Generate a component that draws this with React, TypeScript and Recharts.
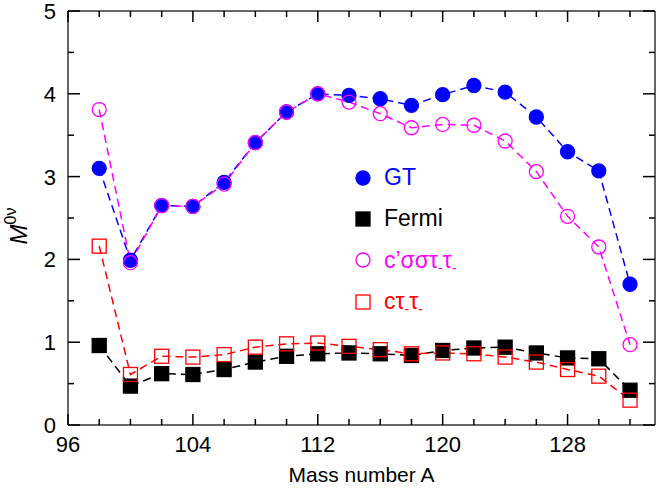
import React from 'react';
import { LineChart, Line, XAxis, YAxis, Legend, ReferenceLine } from 'recharts';

const massNumbers = [98, 100, 102, 104, 106, 108, 110, 112, 114, 116, 118, 120, 122, 124, 126, 128, 130, 132];
const gtValues = [3.1, 1.99, 2.65, 2.64, 2.93, 3.41, 3.78, 4.0, 3.98, 3.94, 3.86, 3.99, 4.1, 4.02, 3.72, 3.3, 3.07, 1.7];
const fermiValues = [0.96, 0.47, 0.62, 0.61, 0.67, 0.76, 0.83, 0.86, 0.87, 0.86, 0.84, 0.9, 0.93, 0.94, 0.87, 0.81, 0.8, 0.42];
const sigmaValues = [3.81, 1.96, 2.65, 2.64, 2.91, 3.41, 3.78, 4.0, 3.9, 3.76, 3.59, 3.63, 3.62, 3.43, 3.06, 2.52, 2.15, 0.97];
const tauValues = [2.16, 0.61, 0.83, 0.82, 0.85, 0.94, 0.98, 0.99, 0.95, 0.91, 0.86, 0.87, 0.86, 0.82, 0.76, 0.67, 0.59, 0.3];

const xTicks = [96, 98, 100, 102, 104, 106, 108, 110, 112, 114, 116, 118, 120, 122, 124, 126, 128, 130, 132];
const yTicks = [0, 0.5, 1, 1.5, 2, 2.5, 3, 3.5, 4, 4.5, 5];
const X_MAX = 133.6;

const FONT = '"Liberation Sans", Arial, Helvetica, sans-serif';
const BLUE = '#0000ff';
const MAGENTA = '#ff00ff';
const RED = '#ff0000';
const FRAME = '#333';

// layout
const CHART_W = 661;
const CHART_H = 488;
const MARGIN_TOP = 11;
const MARGIN_RIGHT = 6;
const XAXIS_H = 63;
const YAXIS_W = 68;
const PLOT_H = CHART_H - MARGIN_TOP - XAXIS_H;
const PLOT_W = CHART_W - MARGIN_RIGHT - YAXIS_W;

const chartData = massNumbers.map((a, i) => ({
  a,
  gt: gtValues[i],
  fermi: fermiValues[i],
  sigma: sigmaValues[i],
  tau: tauValues[i],
}));

const isMajorX = (v: number) => (v - 96) % 8 === 0;
const isMajorY = (v: number) => v % 1 === 0;

// bottom ticks point inward; the mirrored top tick is drawn with it
const BottomTick = (props: any) => {
  const { x, y, payload } = props;
  const len = isMajorX(payload.value) ? 11 : 6;
  const top = y - PLOT_H;
  return (
    <g>
      <line x1={x} x2={x} y1={y} y2={y - len} stroke="#000" strokeWidth={1.5} />
      <line x1={x} x2={x} y1={top} y2={top + len} stroke="#000" strokeWidth={1.5} />
      {isMajorX(payload.value) && (
        <text x={x} y={y + 27} textAnchor="middle" fontSize={22} fontFamily={FONT} fill="#000">
          {payload.value}
        </text>
      )}
    </g>
  );
};

// left ticks point inward; the mirrored right tick is drawn with it
const LeftTick = (props: any) => {
  const { x, y, payload } = props;
  const len = isMajorY(payload.value) ? 12 : 6;
  const right = x + PLOT_W;
  return (
    <g>
      <line x1={x} x2={x + len} y1={y} y2={y} stroke="#000" strokeWidth={1.5} />
      <line x1={right} x2={right - len} y1={y} y2={y} stroke="#000" strokeWidth={1.5} />
      {isMajorY(payload.value) && (
        <text x={x - 12} y={y + 8} textAnchor="end" fontSize={22} fontFamily={FONT} fill="#000">
          {payload.value}
        </text>
      )}
    </g>
  );
};

const circleDot = (color: string, filled: boolean) => (props: any) => {
  const { cx, cy, index } = props;
  return (
    <circle
      key={index}
      cx={cx}
      cy={cy}
      r={7}
      fill={filled ? color : 'none'}
      stroke={color}
      strokeWidth={1.3}
    />
  );
};

const squareDot = (color: string, filled: boolean) => (props: any) => {
  const { cx, cy, index } = props;
  return (
    <rect
      key={index}
      x={cx - 7}
      y={cy - 7}
      width={14}
      height={14}
      fill={filled ? color : 'none'}
      stroke={color}
      strokeWidth={1.3}
    />
  );
};

const YLabel = (props: any) => {
  const { viewBox } = props;
  const cx = 27;
  const cy = viewBox.y + viewBox.height / 2 + 8;
  return (
    <text
      x={cx}
      y={cy}
      transform={`rotate(-90 ${cx} ${cy})`}
      textAnchor="middle"
      fontSize={24}
      fontFamily={FONT}
      fill="#000"
    >
      <tspan fontStyle="italic">M</tspan>
      <tspan fontSize={16} dy={-11}>0ν</tspan>
    </text>
  );
};

const legendRows = [
  { label: 'GT', color: BLUE, marker: 'circle', filled: true },
  { label: 'Fermi', color: '#000', marker: 'square', filled: true },
  { label: 'sigma', color: MAGENTA, marker: 'circle', filled: false },
  { label: 'tau', color: RED, marker: 'square', filled: false },
];

const sub = (s: string) => (
  <span style={{ fontSize: 14, position: 'relative', top: 5 }}>{s}</span>
);

const LegendBox = () => (
  <div style={{ fontFamily: FONT, fontSize: 23 }}>
    {legendRows.map((row) => (
      <div key={row.label} style={{ display: 'flex', alignItems: 'center', height: 41.3, color: row.color, whiteSpace: 'nowrap' }}>
        <svg width={16} height={16} style={{ marginRight: 13, flex: 'none' }}>
          {row.marker === 'circle' ? (
            <circle cx={8} cy={8} r={7} fill={row.filled ? row.color : 'none'} stroke={row.color} strokeWidth={1.3} />
          ) : (
            <rect x={1} y={1} width={14} height={14} fill={row.filled ? row.color : 'none'} stroke={row.color} strokeWidth={1.3} />
          )}
        </svg>
        {row.label === 'sigma' ? (
          <span>c’σστ{sub('-')}τ{sub('-')}</span>
        ) : row.label === 'tau' ? (
          <span>cτ{sub('-')}τ{sub('-')}</span>
        ) : (
          <span>{row.label}</span>
        )}
      </div>
    ))}
  </div>
);

export default function App() {
  return (
    <div style={{ position: 'absolute', left: 0, top: 0, width: CHART_W, height: CHART_H, background: '#fff' }}>
      <LineChart
        width={CHART_W}
        height={CHART_H}
        data={chartData}
        margin={{ top: MARGIN_TOP, right: MARGIN_RIGHT, left: 0, bottom: 0 }}
      >
        <XAxis
          dataKey="a"
          type="number"
          domain={[96, X_MAX]}
          ticks={xTicks}
          interval={0}
          allowDataOverflow
          height={XAXIS_H}
          tickSize={0}
          tickMargin={0}
          tickLine={false}
          tick={<BottomTick />}
          axisLine={{ stroke: FRAME, strokeWidth: 1.5 }}
          label={{
            value: 'Mass number A',
            position: 'insideBottom',
            offset: 6,
            style: { fontSize: 21, fontFamily: FONT, fill: '#000' },
          }}
        />
        <YAxis
          type="number"
          domain={[0, 5]}
          ticks={yTicks}
          interval={0}
          width={YAXIS_W}
          tickSize={0}
          tickMargin={0}
          tickLine={false}
          tick={<LeftTick />}
          axisLine={{ stroke: FRAME, strokeWidth: 1.5 }}
          label={<YLabel />}
        />
        {/* frame: top and right edges */}
        <ReferenceLine y={5} stroke={FRAME} strokeWidth={1.5} />
        <ReferenceLine x={X_MAX} stroke={FRAME} strokeWidth={1.5} />
        <Legend
          layout="vertical"
          align="center"
          verticalAlign="middle"
          content={<LegendBox />}
          wrapperStyle={{ position: 'absolute', left: 355, top: 157, width: 220, height: 170 }}
        />
        <Line
          dataKey="gt"
          name="GT"
          type="linear"
          stroke={BLUE}
          strokeWidth={1.5}
          strokeDasharray="8 5"
          dot={circleDot(BLUE, true)}
          isAnimationActive={false}
        />
        <Line
          dataKey="sigma"
          name="sigma"
          type="linear"
          stroke={MAGENTA}
          strokeWidth={1.5}
          strokeDasharray="8 5"
          dot={circleDot(MAGENTA, false)}
          isAnimationActive={false}
        />
        <Line
          dataKey="fermi"
          name="Fermi"
          type="linear"
          stroke="#000"
          strokeWidth={1.5}
          strokeDasharray="8 5"
          dot={squareDot('#000', true)}
          isAnimationActive={false}
        />
        <Line
          dataKey="tau"
          name="tau"
          type="linear"
          stroke={RED}
          strokeWidth={1.5}
          strokeDasharray="8 5"
          dot={squareDot(RED, false)}
          isAnimationActive={false}
        />
      </LineChart>
    </div>
  );
}
